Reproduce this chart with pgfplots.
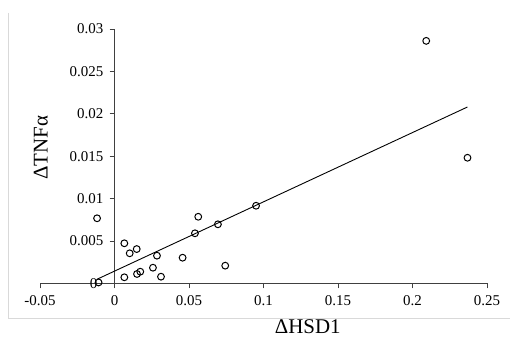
\documentclass[border=0pt]{standalone}
\usepackage{pgfplots}
\pgfplotsset{compat=1.18}
\usepackage{fontspec}
\setmainfont{Liberation Serif}
\definecolor{framegray}{RGB}{217,217,217}
\begin{document}
\begin{tikzpicture}[x=1bp,y=1bp]
\useasboundingbox (0,0) rectangle (510,337);
\draw[color=framegray, line width=1bp] (8,324) -- (8,19) -- (515,19);
\begin{axis}[
  at={(114.5bp,53.7bp)}, anchor=origin,
  scale only axis, width=447bp, height=254.3bp,
  xmin=-0.05, xmax=0.25, ymin=0, ymax=0.03,
  axis x line=bottom, axis y line=middle,
  axis line style={-, line width=0.8bp, color=black!75},
  hide obscured x ticks=false, hide obscured y ticks=false,
  xtick={-0.05,0,0.05,0.1,0.15,0.2,0.25},
  ytick={0.005,0.01,0.015,0.02,0.025,0.03},
  extra y ticks={0},
  extra y tick labels={0},
  extra y tick style={yticklabel style={anchor=east, inner sep=0pt, xshift=-6bp}},
  tick align=outside,
  major tick length=5bp,
  tick style={line width=0.8bp, color=black!75},
  minor tick num=0,
  /pgf/number format/.cd, fixed, precision=3, assume math mode=true, /pgfplots/.cd,
  scaled ticks=false,
  tick label style={font=\fontsize{15}{15}\selectfont, color=black},
  yticklabel style={anchor=east, inner sep=0pt, xshift=-6bp},
  xticklabel style={anchor=north, inner sep=0pt, yshift=-7bp},
  every axis x label/.style={at={(rel axis cs:0.599,-0.197)}, anchor=base, inner sep=0pt},
  every axis y label/.style={at={(rel axis cs:0.0016,0.534)}, anchor=center, rotate=90},
  label style={font=\fontsize{21}{21}\selectfont},
  xlabel={ΔHSD1},
  ylabel={ΔTNFα},
  clip=false,
]
\addplot[only marks, mark=o, mark size=3.4bp, mark options={line width=1bp, draw=black}] coordinates {
(-0.0117,0.00767)
(-0.0107,0.0001)
(0.0066,0.00472)
(0.0102,0.00354)
(0.0149,0.00404)
(0.0066,0.00071)
(0.0151,0.0011)
(0.0173,0.00137)
(0.0258,0.00184)
(0.0285,0.00326)
(0.0312,0.00078)
(0.0457,0.00302)
(0.0540,0.0059)
(0.0562,0.00785)
(0.0694,0.00696)
(0.0743,0.00208)
(0.0950,0.00915)
(0.2092,0.0286)
(0.2369,0.01481)
};
\addplot[black, line width=0.9bp, no marks] coordinates {(-0.0117,0.00048) (0.2369,0.0208)};
\end{axis}
\end{tikzpicture}
\end{document}
